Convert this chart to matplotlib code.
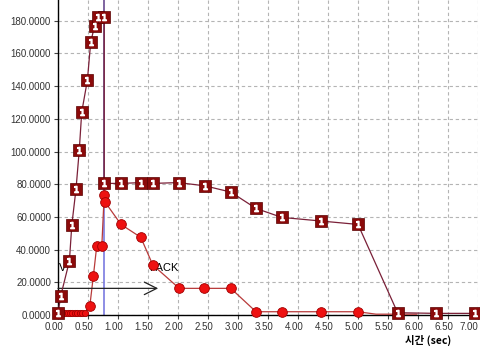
import matplotlib
matplotlib.use("Agg")
import matplotlib.pyplot as plt
import matplotlib.transforms as mtransforms
import numpy as np

# ---- data ----
sq_x = [0.0, 0.045, 0.19, 0.23, 0.30, 0.355, 0.395, 0.49, 0.545, 0.61, 0.67, 0.77,
        0.77, 1.05, 1.39, 1.58, 2.01, 2.45, 2.88, 3.30, 3.73, 4.38, 5.00, 5.66, 6.30, 6.95]
sq_y = [1.0, 11.6, 33.0, 55.0, 77.0, 101.0, 124.0, 143.7, 166.8, 177.0, 182.4, 182.4,
        80.5, 80.5, 81.0, 80.5, 81.0, 79.0, 75.2, 65.2, 59.7, 57.5, 55.4, 1.4, 1.0, 1.0]

ci_x = [0.0, 0.04, 0.08, 0.12, 0.16, 0.20, 0.24, 0.28, 0.32, 0.36, 0.40, 0.45,
        0.53, 0.59, 0.645, 0.73, 0.77, 0.78, 1.05, 1.38, 1.58, 2.02, 2.43, 2.88,
        3.30, 3.74, 4.38, 5.00, 5.30, 5.98]
ci_y = [1.5, 1.5, 1.5, 1.5, 1.5, 1.5, 1.5, 1.5, 1.5, 1.5, 1.5, 1.5,
        5.5, 24.0, 42.0, 42.0, 73.4, 69.3, 55.4, 47.5, 30.6, 16.3, 16.3, 16.3,
        2.0, 2.0, 2.0, 2.0, 0.5, 0.5]
ci_small = 12          # first points drawn smaller
ci_shown = 28          # last points have no marker

cursor_x = 0.77
arrow_y = 16.3
arrow_x_end = 1.67
pack_label = "PACK"
v_label = "V"

y_ticks = [0, 20, 40, 60, 80, 100, 120, 140, 160, 180]
y_tick_labels = [f"{v:.4f}" for v in y_ticks]
x_ticks = [0.0, 0.5, 1.0, 1.5, 2.0, 2.5, 3.0, 3.5, 4.0, 4.5, 5.0, 5.5, 6.0, 6.5, 7.0]
x_tick_labels = [f"{v:.2f}" for v in x_ticks]
x_label = "시간 (sec)"

# ---- figure ----
plt.rcParams['font.family'] = ['Liberation Sans', 'DejaVu Sans']
fig = plt.figure(figsize=(4.8, 3.49), dpi=100)
ax = fig.add_axes([58/480, 1 - 315/349, 420/480, 315/349])
ax.set_xlim(0, 7.0)
ax.set_ylim(0, 192.7)

ax.grid(True, color='#b4b4b4', linestyle=(0, (3, 2.5)), linewidth=0.8)
ax.set_axisbelow(True)
for s in ['top', 'right']:
    ax.spines[s].set_visible(False)
for s in ['left', 'bottom']:
    ax.spines[s].set_color('black')
    ax.spines[s].set_linewidth(1.0)

ax.set_yticks(y_ticks)
ax.set_yticklabels(y_tick_labels, fontsize=7)
ax.set_xticks(x_ticks)
ax.set_xticklabels(x_tick_labels, fontsize=7)
ax.tick_params(axis='both', length=3, width=0.8, color='#444444', pad=2, labelcolor='#333333')

shift = mtransforms.ScaledTranslation(-4 / 100, 0, fig.dpi_scale_trans)
xlabels = ax.get_xticklabels()
for lab in xlabels[:-1]:
    lab.set_transform(lab.get_transform() + shift)
xlabels[-1].set_horizontalalignment('right')

# cursor line
ax.axvline(cursor_x, ymin=0, ymax=80 / 192.7, color='#7a7ae0', linewidth=1.2, zorder=2)
ax.axvline(cursor_x, ymin=80 / 192.7, ymax=1, color='#6a4a90', linewidth=1.2, zorder=2)

# circle series
ax.plot(ci_x, ci_y, color='#b83a3a', linewidth=0.9, zorder=3, clip_on=False)
ax.plot(ci_x[:ci_small], ci_y[:ci_small], linestyle='none', marker='o', markersize=4.5,
        markerfacecolor='#ee1111', markeredgecolor='#a00000', markeredgewidth=0.6,
        zorder=4, clip_on=False)
ax.plot(ci_x[ci_small:ci_shown], ci_y[ci_small:ci_shown], linestyle='none', marker='o',
        markersize=7, markerfacecolor='#ee1111', markeredgecolor='#a00000',
        markeredgewidth=0.6, zorder=4, clip_on=False)

# square series
ax.plot(sq_x, sq_y, color='#7a2038', linewidth=0.9, zorder=5, clip_on=False)
ax.plot(sq_x, sq_y, linestyle='none', marker='s', markersize=8,
        markerfacecolor='#8b0a0a', markeredgecolor='#5a0000', markeredgewidth=0.5,
        zorder=6, clip_on=False)
ax.plot(sq_x, sq_y, linestyle='none', marker='$1$', markersize=4.5,
        color='white', zorder=7, clip_on=False)

# arrow and labels
ax.annotate('', xy=(arrow_x_end, arrow_y), xytext=(0, arrow_y),
            arrowprops=dict(arrowstyle='->,head_length=0.9,head_width=0.45',
                            color='#222222', linewidth=0.9, shrinkA=0, shrinkB=0),
            zorder=3)
ax.text(1.52, 28.5, pack_label, fontsize=8, color='black', ha='left', va='center', zorder=3)
ax.text(0.02, 28.5, v_label, fontsize=8, color='black', ha='left', va='center', zorder=3)

fig.text(428/480, 1 - 340/349, x_label, fontsize=7.5, fontweight='bold', ha='center',
         va='center', family=['Noto Sans CJK KR', 'DejaVu Sans'])

fig.savefig('out.png', dpi=100, facecolor='white')
